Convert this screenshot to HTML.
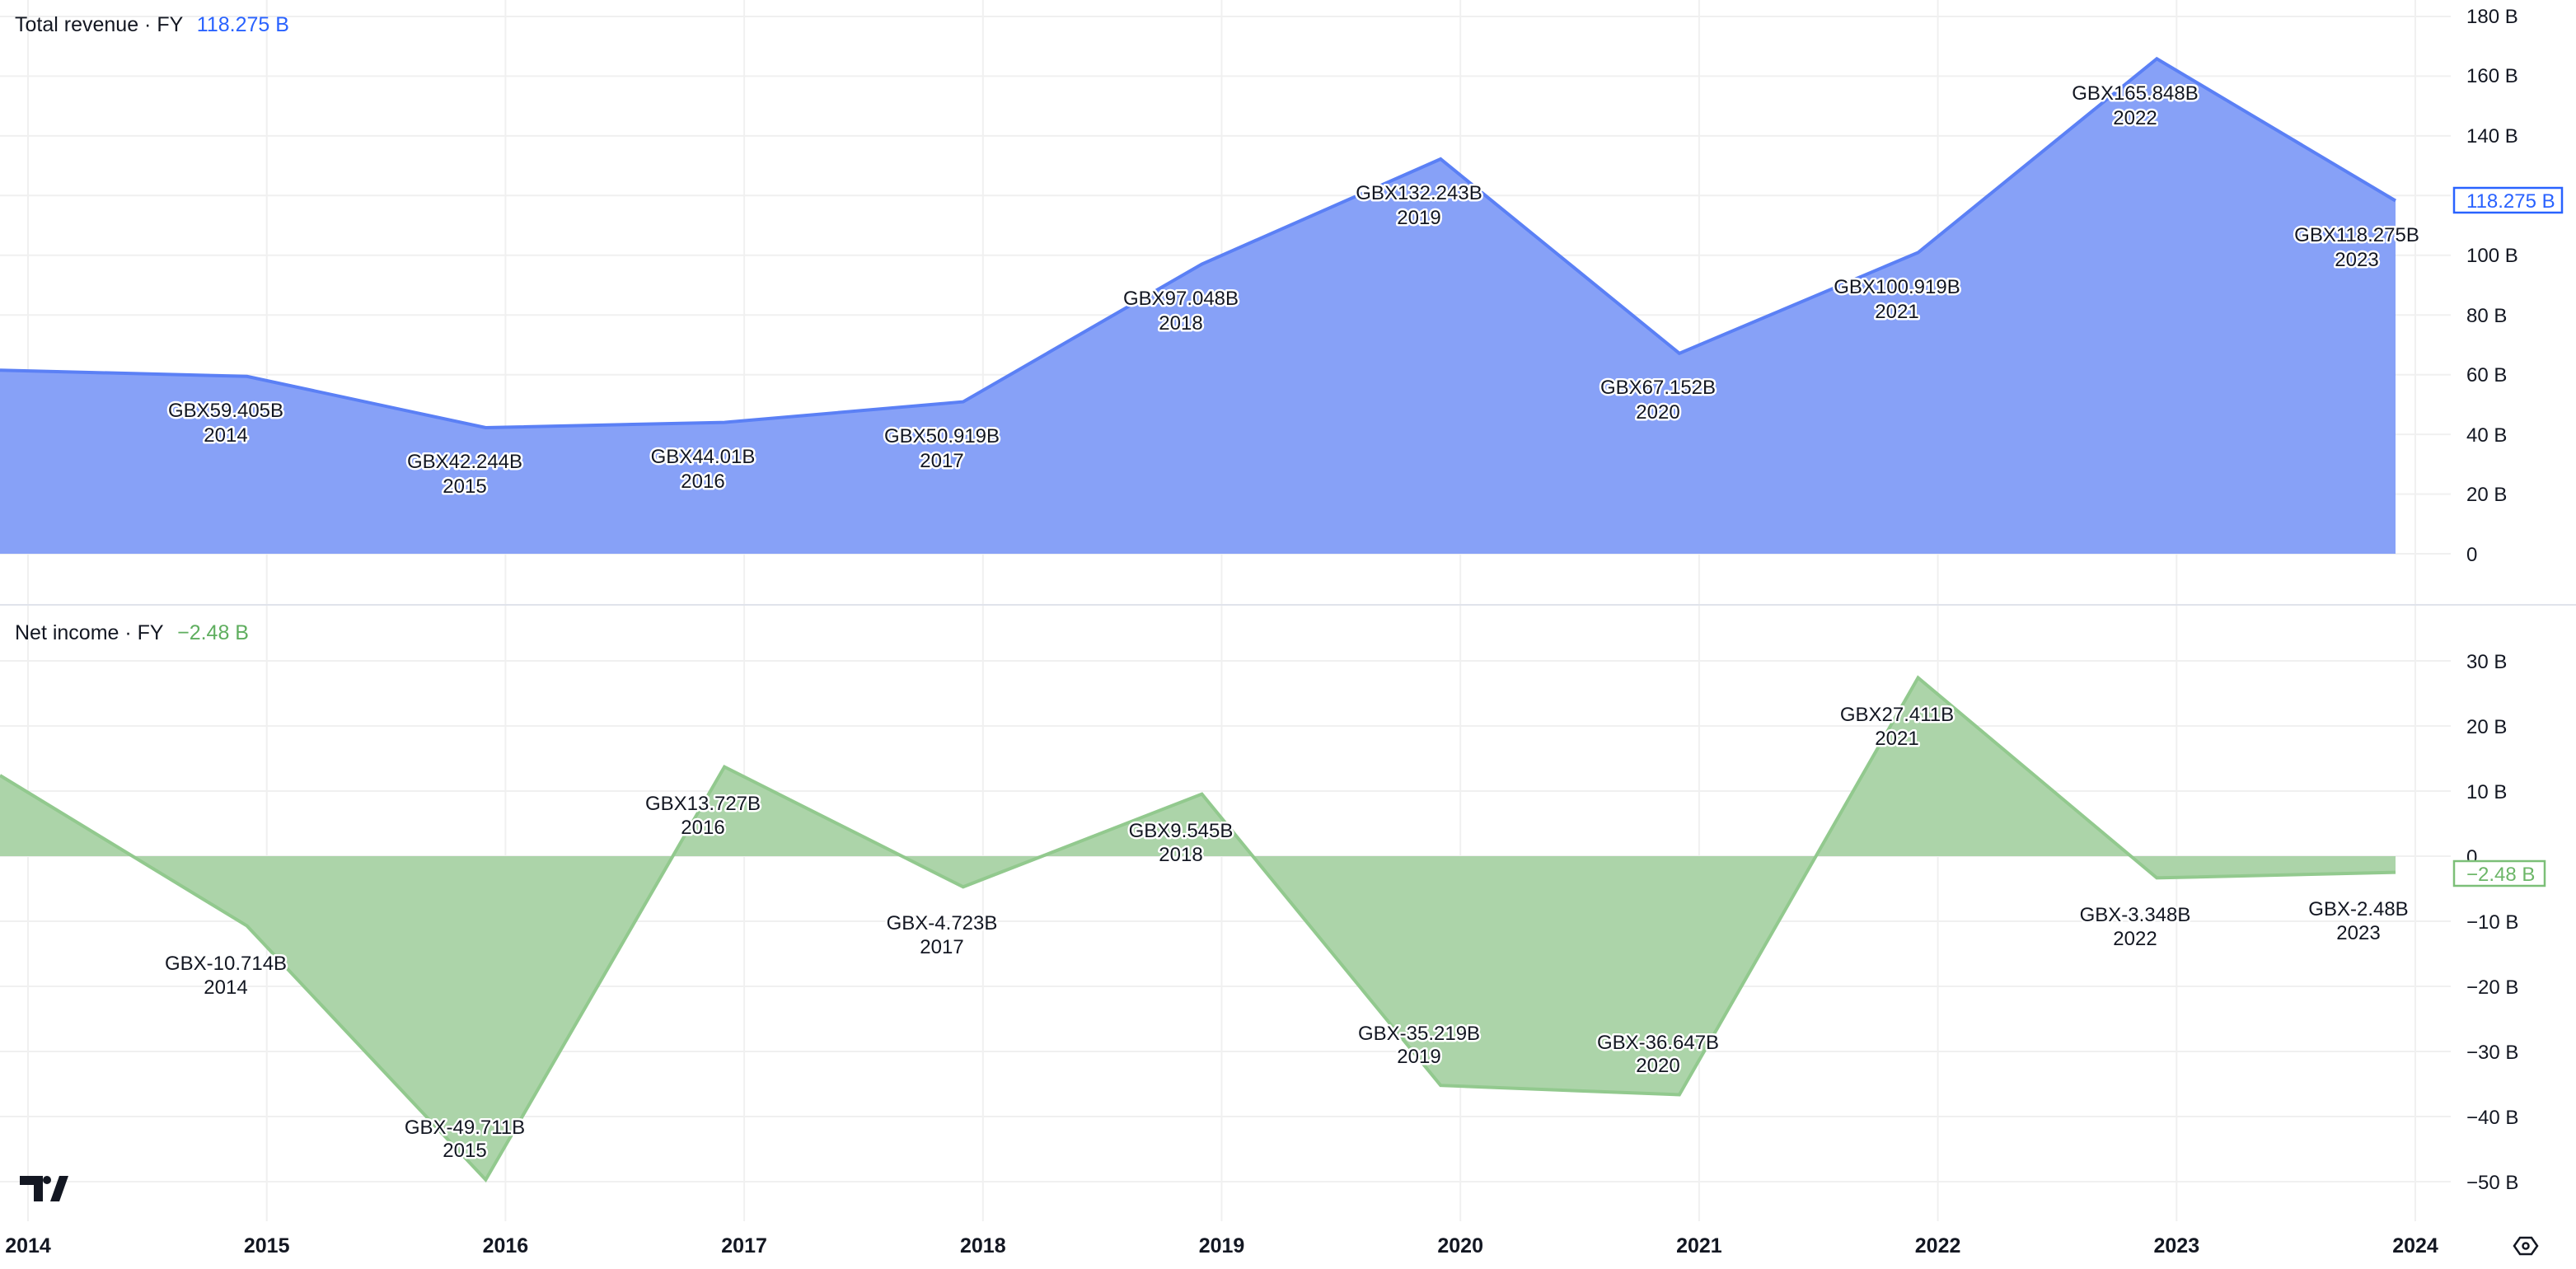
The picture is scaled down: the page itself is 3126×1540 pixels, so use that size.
<!DOCTYPE html>
<html><head><meta charset="utf-8"><style>
html,body{margin:0;padding:0;background:#fff;}
svg{display:block;font-family:"Liberation Sans",sans-serif;}
.ax{font-size:24px;fill:#131722;}
.yr{font-size:25px;fill:#131722;font-weight:bold;text-anchor:middle;}
.lb{font-size:24px;fill:#131722;text-anchor:middle;stroke:#fff;stroke-width:5px;paint-order:stroke;stroke-linejoin:round;}
.g{stroke:#f0f0f0;stroke-width:2;}
</style></head><body>
<svg width="3126" height="1540" viewBox="0 0 3126 1540">
<g class="g">
<line x1="34" y1="0" x2="34" y2="1482"/><line x1="323.7" y1="0" x2="323.7" y2="1482"/><line x1="613.4" y1="0" x2="613.4" y2="1482"/><line x1="903.1" y1="0" x2="903.1" y2="1482"/><line x1="1192.8" y1="0" x2="1192.8" y2="1482"/><line x1="1482.5" y1="0" x2="1482.5" y2="1482"/><line x1="1772.2" y1="0" x2="1772.2" y2="1482"/><line x1="2061.9" y1="0" x2="2061.9" y2="1482"/><line x1="2351.6" y1="0" x2="2351.6" y2="1482"/><line x1="2641.3" y1="0" x2="2641.3" y2="1482"/><line x1="2931" y1="0" x2="2931" y2="1482"/>
</g>
<g class="g">
<line x1="0" y1="20" x2="2974" y2="20"/><line x1="0" y1="92.4" x2="2974" y2="92.4"/><line x1="0" y1="164.9" x2="2974" y2="164.9"/><line x1="0" y1="237.3" x2="2974" y2="237.3"/><line x1="0" y1="309.8" x2="2974" y2="309.8"/><line x1="0" y1="382.2" x2="2974" y2="382.2"/><line x1="0" y1="454.7" x2="2974" y2="454.7"/><line x1="0" y1="527.1" x2="2974" y2="527.1"/><line x1="0" y1="599.6" x2="2974" y2="599.6"/><line x1="0" y1="672" x2="2974" y2="672"/>
</g>
<g class="g">
<line x1="0" y1="802" x2="2974" y2="802"/><line x1="0" y1="881" x2="2974" y2="881"/><line x1="0" y1="960" x2="2974" y2="960"/><line x1="0" y1="1039" x2="2974" y2="1039"/><line x1="0" y1="1118" x2="2974" y2="1118"/><line x1="0" y1="1197" x2="2974" y2="1197"/><line x1="0" y1="1276" x2="2974" y2="1276"/><line x1="0" y1="1355" x2="2974" y2="1355"/><line x1="0" y1="1434" x2="2974" y2="1434"/>
</g>
<line x1="0" y1="734" x2="3126" y2="734" stroke="#e0e3eb" stroke-width="2"/>

<polygon fill="#87a1f7" points="0,449.2 299.7,456.8 589.4,519 879.1,512.6 1168.8,487.6 1458.5,320.5 1748.2,193 2037.9,428.8 2327.6,306.5 2617.3,71.3 2907,243.6 2907,672 0,672"/>
<polyline fill="none" stroke="#5b80f5" stroke-width="4" points="0,449.2 299.7,456.8 589.4,519 879.1,512.6 1168.8,487.6 1458.5,320.5 1748.2,193 2037.9,428.8 2327.6,306.5 2617.3,71.3 2907,243.6"/>

<polygon fill="#acd4a9" points="0,941 299.7,1123.6 589.4,1431.7 879.1,930.6 1168.8,1076.3 1458.5,963.6 1748.2,1317.2 2037.9,1328.5 2327.6,822.5 2617.3,1065.4 2907,1058.6 2907,1039 0,1039"/>
<polyline fill="none" stroke="#92c98e" stroke-width="4" points="0,941 299.7,1123.6 589.4,1431.7 879.1,930.6 1168.8,1076.3 1458.5,963.6 1748.2,1317.2 2037.9,1328.5 2327.6,822.5 2617.3,1065.4 2907,1058.6"/>

<g class="lb">
<text x="274" y="506">GBX59.405B</text><text x="274" y="536">2014</text>
<text x="564" y="568">GBX42.244B</text><text x="564" y="598">2015</text>
<text x="853" y="562">GBX44.01B</text><text x="853" y="592">2016</text>
<text x="1143" y="537">GBX50.919B</text><text x="1143" y="567">2017</text>
<text x="1433" y="370">GBX97.048B</text><text x="1433" y="400">2018</text>
<text x="1722" y="242">GBX132.243B</text><text x="1722" y="272">2019</text>
<text x="2012" y="478">GBX67.152B</text><text x="2012" y="508">2020</text>
<text x="2302" y="356">GBX100.919B</text><text x="2302" y="386">2021</text>
<text x="2591" y="121">GBX165.848B</text><text x="2591" y="151">2022</text>
<text x="2860" y="293">GBX118.275B</text><text x="2860" y="323">2023</text>
</g>
<g class="lb">
<text x="274" y="1177">GBX-10.714B</text><text x="274" y="1206">2014</text>
<text x="564" y="1376">GBX-49.711B</text><text x="564" y="1404">2015</text>
<text x="853" y="983">GBX13.727B</text><text x="853" y="1012">2016</text>
<text x="1143" y="1128">GBX-4.723B</text><text x="1143" y="1157">2017</text>
<text x="1433" y="1016">GBX9.545B</text><text x="1433" y="1045">2018</text>
<text x="1722" y="1262">GBX-35.219B</text><text x="1722" y="1290">2019</text>
<text x="2012" y="1273">GBX-36.647B</text><text x="2012" y="1301">2020</text>
<text x="2302" y="875">GBX27.411B</text><text x="2302" y="904">2021</text>
<text x="2591" y="1118">GBX-3.348B</text><text x="2591" y="1147">2022</text>
<text x="2862" y="1111">GBX-2.48B</text><text x="2862" y="1140">2023</text>
</g>

<text x="18" y="38" font-size="25" fill="#131722">Total revenue · FY <tspan dx="10" fill="#2962ff">118.275 B</tspan></text>
<text x="18" y="776" font-size="25" fill="#131722">Net income · FY <tspan dx="10" fill="#5fae5f">−2.48 B</tspan></text>

<g class="ax">
<text x="2993" y="28">180 B</text><text x="2993" y="100">160 B</text><text x="2993" y="173">140 B</text>
<text x="2993" y="318">100 B</text><text x="2993" y="391">80 B</text><text x="2993" y="463">60 B</text>
<text x="2993" y="536">40 B</text><text x="2993" y="608">20 B</text><text x="2993" y="681">0</text>
</g>
<rect x="2978" y="228" width="131" height="30" fill="#fff" stroke="#2962ff" stroke-width="2.5"/>
<text x="2993" y="252" font-size="24" fill="#2962ff">118.275 B</text>
<g class="ax">
<text x="2993" y="811">30 B</text><text x="2993" y="890">20 B</text><text x="2993" y="969">10 B</text>
<text x="2993" y="1048">0</text>
<text x="2993" y="1127">−10 B</text><text x="2993" y="1206">−20 B</text><text x="2993" y="1285">−30 B</text>
<text x="2993" y="1364">−40 B</text><text x="2993" y="1443">−50 B</text>
</g>
<rect x="2978" y="1045" width="110" height="30" fill="#fff" stroke="#7cbf78" stroke-width="2.5"/>
<text x="2993" y="1069" font-size="24" fill="#6cb668">−2.48 B</text>

<g class="yr">
<text x="34" y="1520">2014</text><text x="323.7" y="1520">2015</text><text x="613.4" y="1520">2016</text><text x="903.1" y="1520">2017</text><text x="1192.8" y="1520">2018</text><text x="1482.5" y="1520">2019</text><text x="1772.2" y="1520">2020</text><text x="2061.9" y="1520">2021</text><text x="2351.6" y="1520">2022</text><text x="2641.3" y="1520">2023</text><text x="2931" y="1520">2024</text>
</g>
<g fill="#131722">
<polygon points="24,1427 52,1427 52,1458 41,1458 41,1438 24,1438"/>
<circle cx="57" cy="1432" r="5"/>
<polygon points="72,1427 83,1427 72,1458 61,1458"/>
</g>
<g transform="translate(3065,1512)" fill="none" stroke="#131722" stroke-width="2.5">
<polygon points="-14,0 -7,-10 7,-10 14,0 7,10 -7,10"/>
<circle cx="0" cy="0" r="3.5"/>
</g>
</svg>
</body></html>
